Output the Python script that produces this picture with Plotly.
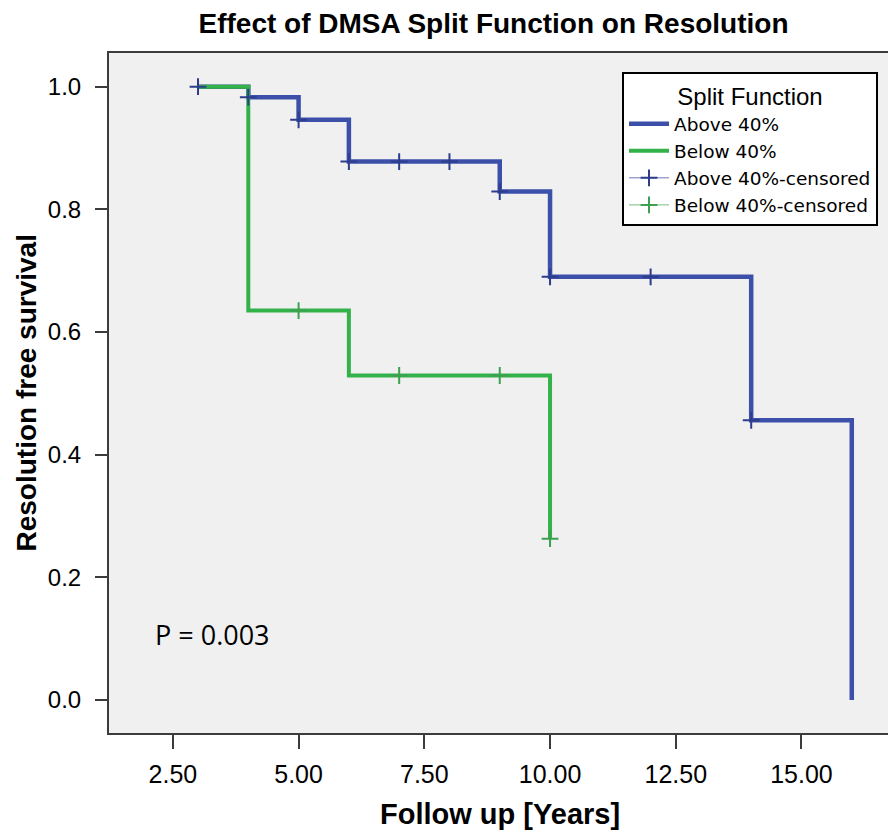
import plotly.graph_objects as go

# Kaplan-Meier step data (event times and survival)
above_time = [3, 4, 5, 6, 9, 10, 14, 16]
above_surv = [1.0, 0.983, 0.946, 0.878, 0.829, 0.690, 0.456, 0.0]
below_time = [3, 4, 6, 10]
below_surv = [1.0, 0.635, 0.529, 0.263]

# Censored observations
above_cens_time = [3, 4, 5, 6, 7, 8, 9, 10, 12, 14]
above_cens_surv = [1.0, 0.983, 0.946, 0.878, 0.878, 0.878, 0.829, 0.690, 0.690, 0.456]
below_cens_time = [5, 7, 9, 10]
below_cens_surv = [0.635, 0.529, 0.529, 0.263]

x_ticks = [2.5, 5.0, 7.5, 10.0, 12.5, 15.0]
y_ticks = [0.0, 0.2, 0.4, 0.6, 0.8, 1.0]

BLUE = "rgb(60,80,170)"
GREEN = "rgb(52,178,74)"
BLUE_C = "rgb(45,60,140)"
GREEN_C = "rgb(60,160,80)"

FONT = "Liberation Sans, Arial"

# page body has an 8px margin; figure is sized/positioned to compensate
W, H = 888, 824
PL, PT, PR, PB = 101, 45, 883, 725  # plot area in figure pixels
PW, PH = PR - PL, PB - PT


def gapped(vals):
    out = []
    for v in vals:
        out += [v, None]
    return out


def px_x(x):
    return (x - PL) / PW


def px_y(y):
    return (PB - y) / PH


fig = go.Figure()
fig.add_trace(go.Scatter(x=above_time, y=above_surv, mode="lines", line_shape="hv",
                         line=dict(color=BLUE, width=4.5), name="Above 40%"))
fig.add_trace(go.Scatter(x=below_time, y=below_surv, mode="lines", line_shape="hv",
                         line=dict(color=GREEN, width=4), name="Below 40%"))
fig.add_trace(go.Scatter(x=gapped(above_cens_time), y=gapped(above_cens_surv), mode="lines+markers",
                         line=dict(color="rgb(110,120,180)", width=1),
                         marker=dict(symbol="cross-thin", size=12, line=dict(color=BLUE_C, width=2)),
                         name="Above 40%-censored"))
fig.add_trace(go.Scatter(x=gapped(below_cens_time), y=gapped(below_cens_surv), mode="lines+markers",
                         line=dict(color="rgb(120,190,130)", width=1),
                         marker=dict(symbol="cross-thin", size=12, line=dict(color=GREEN_C, width=2)),
                         name="Below 40%-censored"))

# P value
fig.add_annotation(x=px_x(145), y=px_y(626), xref="paper", yref="paper", text="P = 0.003",
                   showarrow=False, xanchor="left", yanchor="middle",
                   font=dict(family="Open Sans, Liberation Sans", size=27, color="black"))
# axis titles
fig.add_annotation(x=0, y=0.5, xref="paper", yref="paper", xshift=-PL,
                   text="<b>Resolution free survival</b>", textangle=-90,
                   showarrow=False, xanchor="left", yanchor="middle",
                   font=dict(family=FONT, size=28, color="black"))
fig.add_annotation(x=0.5, y=px_y(806), xref="paper", yref="paper",
                   text="<b>Follow up [Years]</b>",
                   showarrow=False, xanchor="center", yanchor="middle",
                   font=dict(family=FONT, size=29, color="black"))

fig.update_layout(
    width=W, height=H,
    margin=dict(l=PL, r=W - PR, t=PT, b=H - PB, autoexpand=False),
    paper_bgcolor="white",
    plot_bgcolor="rgb(240,240,240)",
    title=dict(text="<b>Effect of DMSA Split Function on Resolution</b>",
               x=485.5 / W, xanchor="center", y=1 - 5 / H, yanchor="top", yref="container",
               pad=dict(t=0, b=0),
               font=dict(family=FONT, size=28, color="black")),
    legend=dict(
        title=dict(text="Split Function", side="top center",
                   font=dict(family=FONT, size=24, color="black")),
        x=px_x(870), xanchor="right", y=px_y(64), yanchor="top",
        bgcolor="white", bordercolor="black", borderwidth=2,
        font=dict(family="DejaVu Sans, Liberation Sans", size=18.5, color="black"),
        itemwidth=40, tracegroupgap=0,
    ),
    font=dict(family=FONT, color="black"),
    showlegend=True,
)

fig.update_xaxes(range=[1.23, 16.78], tickvals=x_ticks, ticktext=[f"{v:.2f}" for v in x_ticks],
                 showgrid=False, zeroline=False, showline=True, mirror=True, automargin=False,
                 linecolor="rgb(60,60,60)", linewidth=2, ticks="outside", ticklen=14, tickwidth=2,
                 tickcolor="rgb(60,60,60)", ticklabelstandoff=4,
                 tickfont=dict(family=FONT, size=25, color="black"))
fig.update_yaxes(range=[-0.054, 1.055], tickvals=y_ticks, ticktext=[f"{v:.1f}" for v in y_ticks],
                 showgrid=False, zeroline=False, showline=True, mirror=True, automargin=False,
                 linecolor="rgb(60,60,60)", linewidth=2, ticks="outside", ticklen=12, tickwidth=2,
                 tickcolor="rgb(60,60,60)", ticklabelstandoff=9,
                 tickfont=dict(family=FONT, size=24, color="black"))

fig.write_html("out.html")
